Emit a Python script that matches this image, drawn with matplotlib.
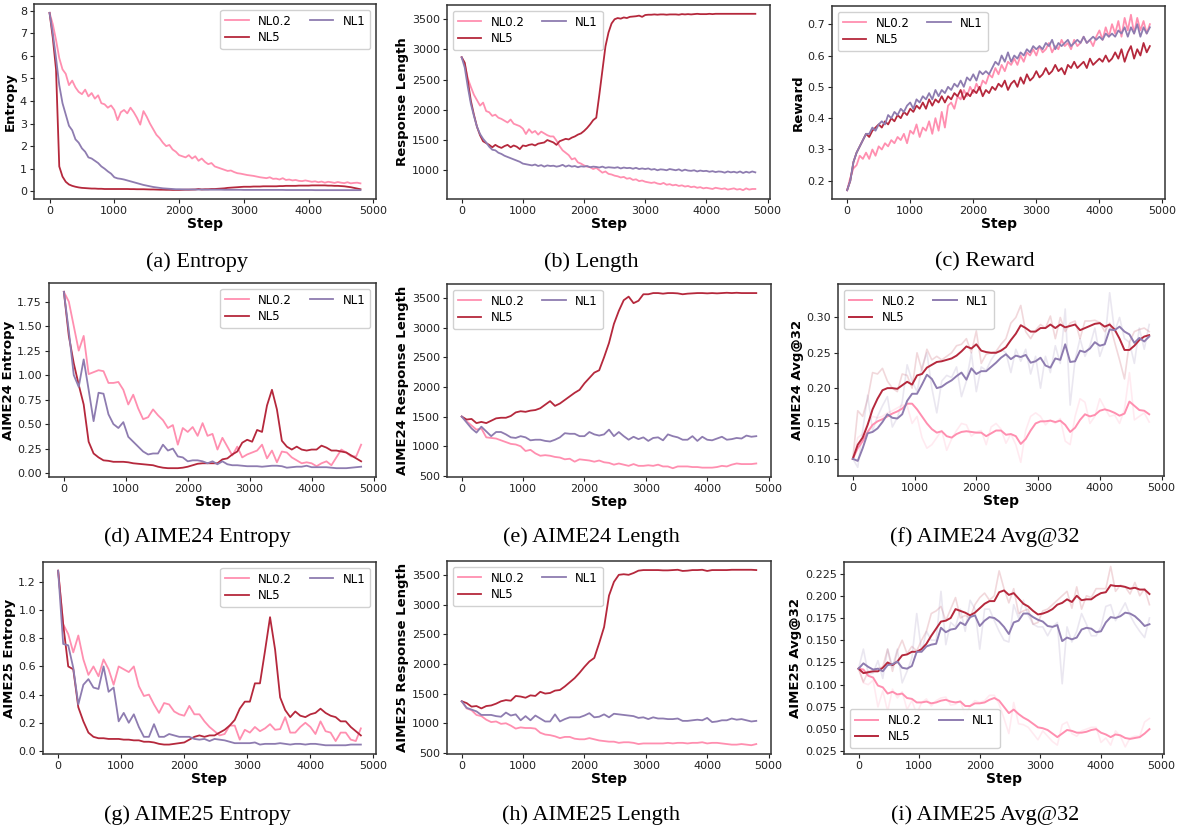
import numpy as np
import matplotlib
matplotlib.use("Agg")
import matplotlib.pyplot as plt
from matplotlib.ticker import MultipleLocator

# ---- data -------------------------------------------------------------
train_steps = np.arange(0, 4801, 50)   # training curves, every 50 steps
eval_steps = np.arange(0, 4801, 80)    # AIME evaluation, every 80 steps

labels = ["NL0.2", "NL5", "NL1"]
colors = {"NL0.2": "#ff8fb0", "NL5": "#b5283c", "NL1": "#8e7cb0"}

# (a) entropy
ent_nl02 = [7.9, 7.4, 6.7, 5.9, 5.4, 5.2, 4.7, 4.9, 4.6, 4.4,
            4.3, 4.5, 4.2, 4.35, 4.1, 4.25, 3.9, 3.85, 3.7, 3.8,
            3.6, 3.15, 3.5, 3.6, 3.45, 3.7, 3.5, 3.25, 2.95, 3.55,
            3.3, 3.0, 2.75, 2.5, 2.35, 2.15, 2.0, 2.05, 1.85, 1.75,
            1.6, 1.55, 1.5, 1.6, 1.45, 1.55, 1.35, 1.45, 1.3, 1.2,
            1.25, 1.1, 1.05, 1.0, 0.95, 0.9, 0.92, 0.85, 0.8, 0.78,
            0.75, 0.72, 0.7, 0.68, 0.65, 0.62, 0.6, 0.58, 0.62, 0.55,
            0.56, 0.52, 0.58, 0.5, 0.52, 0.48, 0.5, 0.46, 0.45, 0.48,
            0.45, 0.42, 0.44, 0.4, 0.43, 0.38, 0.42, 0.4, 0.37, 0.41,
            0.38, 0.36, 0.4, 0.35, 0.37, 0.38, 0.35]
ent_nl5 = [7.9, 6.8, 5.4, 1.1, 0.65, 0.42, 0.3, 0.24, 0.2, 0.17,
           0.15, 0.14, 0.13, 0.12, 0.12, 0.11, 0.11, 0.1, 0.1, 0.1,
           0.1, 0.1, 0.1, 0.1, 0.1, 0.095, 0.095, 0.09, 0.09, 0.09,
           0.085, 0.08, 0.08, 0.075, 0.07, 0.07, 0.065, 0.065, 0.06, 0.06,
           0.06, 0.065, 0.07, 0.07, 0.075, 0.08, 0.1, 0.08, 0.09, 0.09,
           0.1, 0.1, 0.11, 0.12, 0.13, 0.15, 0.16, 0.17, 0.18, 0.19,
           0.2, 0.2, 0.2, 0.21, 0.21, 0.21, 0.22, 0.22, 0.22, 0.22,
           0.22, 0.23, 0.23, 0.24, 0.24, 0.24, 0.24, 0.25, 0.25, 0.25,
           0.25, 0.26, 0.26, 0.26, 0.26, 0.26, 0.25, 0.25, 0.24, 0.24,
           0.23, 0.22, 0.2, 0.18, 0.15, 0.12, 0.09]
ent_nl1 = [7.9, 7.0, 5.9, 4.7, 3.9, 3.4, 2.9, 2.7, 2.3, 2.15,
           1.9, 1.75, 1.5, 1.45, 1.35, 1.25, 1.1, 1.0, 0.88, 0.78,
           0.62, 0.57, 0.55, 0.52, 0.48, 0.44, 0.4, 0.36, 0.32, 0.28,
           0.25, 0.22, 0.19, 0.17, 0.15, 0.13, 0.12, 0.11, 0.1, 0.09,
           0.09, 0.085, 0.08, 0.08, 0.08, 0.075, 0.075, 0.075, 0.07, 0.07,
           0.07, 0.07, 0.07, 0.07, 0.065, 0.065, 0.065, 0.065, 0.065, 0.065,
           0.06, 0.06, 0.06, 0.06, 0.06, 0.06, 0.06, 0.06, 0.06, 0.06,
           0.06, 0.06, 0.06, 0.055, 0.055, 0.055, 0.055, 0.055, 0.055, 0.055,
           0.055, 0.055, 0.05, 0.05, 0.05, 0.05, 0.05, 0.05, 0.05, 0.05,
           0.05, 0.05, 0.05, 0.05, 0.05, 0.05, 0.05]

# (b) response length
len_nl02 = [2870, 2760, 2520, 2380, 2250, 2160, 2070, 2120, 1980, 1960,
            1900, 1920, 1870, 1850, 1820, 1790, 1840, 1770, 1750, 1730,
            1690, 1600, 1680, 1620, 1650, 1590, 1640, 1610, 1580, 1560,
            1560, 1490, 1400, 1330, 1290, 1250, 1180, 1200, 1130, 1110,
            1080, 1060, 1050, 1020, 1040, 1000, 960, 980, 940, 930,
            910, 900, 880, 890, 860, 870, 840, 850, 820, 830,
            810, 800, 790, 800, 780, 770, 790, 760, 770, 750,
            760, 740, 750, 730, 740, 720, 730, 710, 720, 700,
            710, 700, 690, 710, 700, 690, 700, 680, 690, 700,
            680, 690, 670, 700, 680, 690, 690]
len_nl5 = [2870, 2780, 2480, 2150, 1920, 1720, 1580, 1480, 1450, 1420,
           1380, 1420, 1390, 1370, 1400, 1420, 1380, 1410, 1390, 1350,
           1410, 1400, 1420, 1430, 1410, 1440, 1450, 1460, 1500, 1480,
           1460, 1420, 1480, 1500, 1520, 1510, 1540, 1560, 1590, 1610,
           1650, 1700, 1760, 1830, 1870, 2250, 2650, 3050, 3280, 3430,
           3500, 3520, 3510, 3530, 3520, 3540, 3545, 3550, 3560, 3540,
           3570, 3575, 3575, 3580, 3575, 3580, 3580, 3575, 3580, 3580,
           3580, 3575, 3585, 3580, 3585, 3580, 3585, 3590, 3585, 3585,
           3585, 3590, 3585, 3590, 3590, 3590, 3590, 3590, 3590, 3590,
           3590, 3590, 3590, 3590, 3590, 3590, 3590]
len_nl1 = [2870, 2700, 2380, 2100, 1900, 1720, 1600, 1520, 1460, 1390,
           1340, 1330, 1290, 1270, 1240, 1220, 1200, 1180, 1160, 1140,
           1110, 1100, 1090, 1080, 1095, 1070, 1085, 1060, 1080, 1070,
           1075, 1060, 1070, 1090, 1060, 1080, 1060, 1070, 1050, 1065,
           1060, 1070, 1050, 1060, 1055, 1045, 1060, 1040, 1050, 1045,
           1040, 1050, 1030, 1045, 1035, 1040, 1025, 1040, 1020, 1030,
           1020, 1030, 1010, 1020, 1000, 1015, 1010, 1000, 1020, 1010,
           1000, 1015, 990, 1010, 995, 990, 1000, 980, 995, 985,
           990, 975, 985, 970, 980, 975, 960, 980, 965, 975,
           960, 980, 955, 975, 960, 980, 965]

# (c) reward
rew_nl02 = [0.17, 0.21, 0.24, 0.25, 0.28, 0.27, 0.29, 0.27, 0.30, 0.28,
            0.31, 0.30, 0.32, 0.31, 0.33, 0.32, 0.34, 0.33, 0.35, 0.32,
            0.36, 0.35, 0.38, 0.34, 0.37, 0.36, 0.39, 0.35, 0.40, 0.36,
            0.42, 0.37, 0.44, 0.45, 0.43, 0.47, 0.46, 0.49, 0.47, 0.50,
            0.48, 0.51, 0.49, 0.52, 0.51, 0.54, 0.53, 0.56, 0.54, 0.57,
            0.55, 0.58, 0.57, 0.59, 0.57, 0.60, 0.58, 0.61, 0.60, 0.62,
            0.60, 0.63, 0.61, 0.62, 0.64, 0.61, 0.63, 0.62, 0.65, 0.63,
            0.64, 0.62, 0.65, 0.63, 0.64, 0.66, 0.64, 0.65, 0.63, 0.66,
            0.68, 0.65, 0.69, 0.66, 0.70, 0.67, 0.71, 0.66, 0.72, 0.68,
            0.73, 0.67, 0.72, 0.68, 0.71, 0.67, 0.70]
rew_nl5 = [0.17, 0.20, 0.26, 0.29, 0.31, 0.33, 0.35, 0.34, 0.36, 0.37,
           0.38, 0.37, 0.39, 0.38, 0.40, 0.39, 0.41, 0.40, 0.42, 0.41,
           0.43, 0.42, 0.44, 0.43, 0.45, 0.43, 0.46, 0.44, 0.46, 0.45,
           0.47, 0.45, 0.47, 0.46, 0.48, 0.47, 0.49, 0.46, 0.48, 0.47,
           0.49, 0.48, 0.50, 0.47, 0.49, 0.48, 0.50, 0.49, 0.51, 0.50,
           0.52, 0.49, 0.51, 0.52, 0.50, 0.53, 0.51, 0.54, 0.52, 0.53,
           0.55, 0.53, 0.54, 0.56, 0.54, 0.55, 0.57, 0.55, 0.56, 0.54,
           0.57, 0.56, 0.58, 0.56, 0.57, 0.58, 0.56, 0.59, 0.57, 0.58,
           0.59, 0.58, 0.60, 0.58, 0.59, 0.61, 0.59, 0.62, 0.58, 0.61,
           0.63, 0.59, 0.62, 0.60, 0.64, 0.61, 0.63]
rew_nl1 = [0.17, 0.20, 0.26, 0.29, 0.31, 0.33, 0.35, 0.35, 0.37, 0.36,
           0.38, 0.39, 0.38, 0.41, 0.40, 0.42, 0.41, 0.43, 0.42, 0.44,
           0.45, 0.43, 0.46, 0.45, 0.47, 0.46, 0.48, 0.46, 0.49, 0.47,
           0.49, 0.48, 0.50, 0.49, 0.51, 0.50, 0.52, 0.50, 0.53, 0.52,
           0.54, 0.52, 0.55, 0.54, 0.55, 0.54, 0.56, 0.58, 0.57, 0.60,
           0.58, 0.61, 0.58, 0.60, 0.59, 0.61, 0.60, 0.62, 0.61, 0.63,
           0.62, 0.63, 0.62, 0.64, 0.63, 0.65, 0.62, 0.64, 0.63, 0.64,
           0.65, 0.63, 0.64, 0.65, 0.64, 0.66, 0.64, 0.65, 0.66, 0.65,
           0.66, 0.65, 0.67, 0.66, 0.67, 0.66, 0.68, 0.67, 0.69, 0.66,
           0.69, 0.67, 0.70, 0.66, 0.69, 0.67, 0.69]

# (d) AIME24 entropy
a24_ent_nl02 = [1.85, 1.75, 1.5, 1.25, 1.40, 1.01, 1.03, 1.05, 1.04, 0.92,
                0.92, 0.93, 0.85, 0.70, 0.80, 0.66, 0.55, 0.57, 0.65, 0.59,
                0.54, 0.46, 0.49, 0.29, 0.46, 0.42, 0.47, 0.38, 0.51, 0.38,
                0.40, 0.24, 0.36, 0.27, 0.18, 0.27, 0.16, 0.19, 0.21, 0.23,
                0.29, 0.15, 0.23, 0.11, 0.22, 0.21, 0.16, 0.13, 0.10, 0.11,
                0.10, 0.07, 0.10, 0.12, 0.08, 0.16, 0.24, 0.21, 0.17, 0.17, 0.29]
a24_ent_nl5 = [1.85, 1.40, 1.12, 0.90, 0.70, 0.32, 0.20, 0.16, 0.13, 0.125,
               0.115, 0.115, 0.115, 0.11, 0.10, 0.095, 0.09, 0.085, 0.08, 0.065,
               0.055, 0.05, 0.05, 0.05, 0.055, 0.065, 0.08, 0.095, 0.10, 0.10,
               0.10, 0.10, 0.14, 0.15, 0.19, 0.22, 0.31, 0.34, 0.32, 0.44,
               0.42, 0.69, 0.85, 0.65, 0.33, 0.27, 0.24, 0.27, 0.24, 0.23,
               0.24, 0.24, 0.28, 0.26, 0.23, 0.23, 0.22, 0.21, 0.18, 0.15, 0.12]
a24_ent_nl1 = [1.85, 1.45, 1.00, 0.88, 1.16, 0.85, 0.53, 0.82, 0.81, 0.60,
               0.50, 0.46, 0.52, 0.37, 0.32, 0.27, 0.22, 0.19, 0.20, 0.20,
               0.29, 0.23, 0.25, 0.17, 0.16, 0.12, 0.13, 0.13, 0.12, 0.10,
               0.12, 0.09, 0.12, 0.09, 0.08, 0.08, 0.075, 0.07, 0.07, 0.07,
               0.065, 0.07, 0.075, 0.075, 0.07, 0.055, 0.06, 0.065, 0.065, 0.075,
               0.06, 0.06, 0.06, 0.06, 0.055, 0.05, 0.05, 0.05, 0.055, 0.06, 0.065]

# (e) AIME24 response length
a24_len_nl02 = [1500, 1420, 1350, 1280, 1300, 1150, 1140, 1130, 1100, 1070,
                1040, 1030, 1000, 920, 940, 880, 840, 850, 840, 820,
                810, 780, 790, 740, 780, 770, 760, 740, 760, 730,
                720, 690, 710, 690, 670, 700, 670, 670, 680, 670,
                690, 660, 660, 630, 660, 660, 660, 650, 650, 640,
                640, 640, 650, 670, 660, 690, 710, 700, 700, 700, 710]
a24_len_nl5 = [1500, 1450, 1460, 1390, 1410, 1390, 1430, 1470, 1480, 1480,
               1510, 1570, 1590, 1580, 1600, 1610, 1640, 1700, 1760, 1680,
               1720, 1780, 1840, 1900, 1950, 2060, 2150, 2240, 2280, 2500,
               2740, 3060, 3280, 3460, 3520, 3410, 3450, 3560, 3560, 3580,
               3580, 3570, 3580, 3580, 3575, 3560, 3570, 3575, 3580, 3580,
               3575, 3580, 3575, 3580, 3585, 3580, 3585, 3580, 3580, 3580, 3580]
a24_len_nl1 = [1500, 1400, 1300, 1230, 1330, 1250, 1170, 1240, 1240, 1200,
               1150, 1140, 1170, 1150, 1100, 1110, 1110, 1090, 1080, 1110,
               1150, 1220, 1210, 1210, 1170, 1170, 1240, 1200, 1180, 1200,
               1280, 1170, 1240, 1170, 1110, 1160, 1120, 1150, 1090, 1140,
               1150, 1100, 1200, 1170, 1150, 1110, 1110, 1170, 1090, 1160,
               1110, 1100, 1130, 1160, 1110, 1120, 1140, 1130, 1180, 1160, 1170]

# (f) AIME24 Avg@32: raw and smoothed
a24_avg_nl02_raw = [0.100, 0.130, 0.135, 0.150, 0.160, 0.158, 0.160, 0.165, 0.168, 0.172,
                    0.176, 0.175, 0.150, 0.160, 0.130, 0.115, 0.120, 0.130, 0.140, 0.112,
                    0.128, 0.140, 0.150, 0.148, 0.132, 0.138, 0.140, 0.120, 0.145, 0.150,
                    0.142, 0.122, 0.135, 0.120, 0.095, 0.140, 0.160, 0.165, 0.160, 0.148,
                    0.155, 0.150, 0.157, 0.125, 0.120, 0.160, 0.185, 0.180, 0.150, 0.160,
                    0.185, 0.172, 0.160, 0.162, 0.150, 0.170, 0.222, 0.155, 0.160, 0.165, 0.152]
a24_avg_nl5_raw = [0.100, 0.168, 0.160, 0.185, 0.222, 0.220, 0.228, 0.210, 0.200, 0.195,
                   0.220, 0.218, 0.200, 0.250, 0.225, 0.255, 0.240, 0.245, 0.240, 0.245,
                   0.250, 0.260, 0.262, 0.270, 0.250, 0.281, 0.235, 0.248, 0.250, 0.252,
                   0.262, 0.270, 0.292, 0.300, 0.317, 0.280, 0.270, 0.282, 0.290, 0.285,
                   0.302, 0.270, 0.300, 0.280, 0.292, 0.295, 0.270, 0.295, 0.295, 0.296,
                   0.293, 0.280, 0.292, 0.265, 0.240, 0.213, 0.265, 0.280, 0.283, 0.285, 0.280]
a24_avg_nl1_raw = [0.100, 0.088, 0.140, 0.190, 0.140, 0.160, 0.175, 0.188, 0.145, 0.158,
                   0.180, 0.233, 0.210, 0.195, 0.230, 0.250, 0.200, 0.165, 0.210, 0.218,
                   0.215, 0.230, 0.188, 0.210, 0.250, 0.195, 0.230, 0.225, 0.240, 0.250,
                   0.255, 0.250, 0.222, 0.255, 0.238, 0.255, 0.220, 0.245, 0.200, 0.245,
                   0.222, 0.260, 0.235, 0.312, 0.176, 0.240, 0.270, 0.245, 0.260, 0.285,
                   0.245, 0.265, 0.335, 0.280, 0.300, 0.270, 0.265, 0.235, 0.285, 0.255, 0.290]
a24_avg_nl02 = [0.100, 0.115, 0.125, 0.138, 0.148, 0.153, 0.156, 0.160, 0.164, 0.167,
                0.171, 0.178, 0.178, 0.170, 0.160, 0.150, 0.142, 0.137, 0.139, 0.132,
                0.130, 0.135, 0.138, 0.139, 0.138, 0.137, 0.137, 0.132, 0.136, 0.140,
                0.140, 0.134, 0.135, 0.132, 0.121, 0.128, 0.140, 0.150, 0.153, 0.153,
                0.154, 0.152, 0.154, 0.148, 0.138, 0.144, 0.155, 0.163, 0.160, 0.162,
                0.168, 0.170, 0.168, 0.165, 0.161, 0.164, 0.181, 0.175, 0.169, 0.168, 0.163]
a24_avg_nl5 = [0.100, 0.120, 0.130, 0.148, 0.170, 0.185, 0.197, 0.200, 0.200, 0.199,
               0.204, 0.209, 0.205, 0.218, 0.220, 0.229, 0.233, 0.237, 0.238, 0.240,
               0.242, 0.246, 0.252, 0.259, 0.256, 0.262, 0.253, 0.251, 0.250, 0.250,
               0.253, 0.258, 0.268, 0.277, 0.289, 0.285, 0.280, 0.280, 0.285, 0.285,
               0.290, 0.285, 0.290, 0.286, 0.288, 0.290, 0.282, 0.285, 0.288, 0.291,
               0.292, 0.287, 0.290, 0.283, 0.270, 0.254, 0.254, 0.260, 0.268, 0.273, 0.275]
a24_avg_nl1 = [0.100, 0.097, 0.115, 0.136, 0.138, 0.143, 0.152, 0.163, 0.158, 0.157,
               0.163, 0.182, 0.192, 0.192, 0.205, 0.219, 0.213, 0.200, 0.202, 0.207,
               0.211, 0.217, 0.222, 0.212, 0.228, 0.220, 0.224, 0.224, 0.230, 0.236,
               0.243, 0.248, 0.241, 0.246, 0.244, 0.247, 0.236, 0.238, 0.243, 0.232,
               0.229, 0.242, 0.240, 0.262, 0.237, 0.238, 0.253, 0.251, 0.256, 0.265,
               0.260, 0.262, 0.283, 0.282, 0.287, 0.280, 0.276, 0.264, 0.271, 0.266, 0.273]

# (g) AIME25 entropy
a25_ent_nl02 = [1.28, 0.90, 0.83, 0.70, 0.82, 0.65, 0.54, 0.60, 0.53, 0.65,
                0.58, 0.47, 0.60, 0.58, 0.56, 0.60, 0.46, 0.39, 0.40, 0.33,
                0.27, 0.34, 0.33, 0.28, 0.26, 0.25, 0.32, 0.26, 0.26, 0.21,
                0.17, 0.14, 0.11, 0.12, 0.18, 0.18, 0.08, 0.15, 0.13, 0.17,
                0.14, 0.16, 0.19, 0.15, 0.155, 0.24, 0.13, 0.13, 0.17, 0.20,
                0.17, 0.12, 0.21, 0.14, 0.13, 0.07, 0.13, 0.13, 0.08, 0.07, 0.16]
a25_ent_nl5 = [1.28, 0.90, 0.60, 0.58, 0.31, 0.21, 0.13, 0.10, 0.09, 0.09,
               0.085, 0.085, 0.085, 0.08, 0.08, 0.075, 0.075, 0.065, 0.065, 0.06,
               0.05, 0.045, 0.045, 0.05, 0.055, 0.06, 0.08, 0.10, 0.11, 0.10,
               0.11, 0.11, 0.13, 0.15, 0.18, 0.22, 0.30, 0.35, 0.35, 0.48,
               0.48, 0.71, 0.95, 0.72, 0.38, 0.29, 0.24, 0.28, 0.25, 0.24,
               0.26, 0.27, 0.30, 0.27, 0.25, 0.24, 0.21, 0.21, 0.17, 0.14, 0.11]
a25_ent_nl1 = [1.28, 0.76, 0.75, 0.59, 0.33, 0.47, 0.51, 0.45, 0.44, 0.60,
               0.42, 0.45, 0.21, 0.27, 0.20, 0.26, 0.17, 0.10, 0.10, 0.19,
               0.10, 0.10, 0.12, 0.11, 0.10, 0.10, 0.10, 0.085, 0.08, 0.085,
               0.07, 0.085, 0.08, 0.075, 0.065, 0.055, 0.055, 0.055, 0.055, 0.06,
               0.045, 0.05, 0.05, 0.05, 0.055, 0.05, 0.045, 0.05, 0.05, 0.045,
               0.05, 0.05, 0.045, 0.04, 0.04, 0.04, 0.04, 0.04, 0.045, 0.045, 0.045]

# (h) AIME25 response length
a25_len_nl02 = [1370, 1250, 1220, 1140, 1120, 1060, 1020, 1030, 990, 1000,
                960, 910, 930, 920, 920, 910, 840, 810, 800, 780,
                750, 770, 770, 740, 730, 730, 750, 730, 710, 700,
                690, 690, 670, 680, 680, 670, 650, 660, 660, 660,
                660, 660, 670, 660, 670, 670, 660, 670, 670, 680,
                660, 670, 670, 660, 650, 640, 640, 650, 640, 630, 650]
a25_len_nl5 = [1370, 1340, 1280, 1290, 1250, 1290, 1300, 1330, 1370, 1390,
               1380, 1460, 1450, 1430, 1470, 1460, 1530, 1500, 1510, 1550,
               1560, 1620, 1690, 1760, 1850, 1950, 2040, 2100, 2350, 2620,
               3150, 3380, 3500, 3510, 3500, 3530, 3570, 3580, 3580, 3580,
               3580, 3575, 3575, 3580, 3585, 3565, 3570, 3580, 3580, 3585,
               3565, 3580, 3580, 3580, 3580, 3585, 3585, 3585, 3585, 3585, 3580]
a25_len_nl1 = [1370, 1260, 1230, 1200, 1140, 1140, 1140, 1120, 1110, 1180,
               1130, 1150, 1050, 1120, 1050, 1130, 1080, 1030, 1030, 1150,
               1030, 1070, 1100, 1100, 1100, 1130, 1170, 1100, 1110, 1150,
               1100, 1160, 1150, 1140, 1130, 1120, 1090, 1100, 1070, 1100,
               1080, 1080, 1070, 1070, 1080, 1040, 1040, 1050, 1060, 1050,
               1090, 1020, 1030, 1050, 1050, 1080, 1060, 1070, 1050, 1030, 1040]

# (i) AIME25 Avg@32: raw and smoothed
a25_avg_nl02_raw = [0.118, 0.102, 0.100, 0.105, 0.075, 0.093, 0.070, 0.095, 0.085, 0.092,
                    0.072, 0.082, 0.067, 0.080, 0.084, 0.076, 0.082, 0.085, 0.086, 0.077,
                    0.078, 0.082, 0.065, 0.076, 0.082, 0.080, 0.082, 0.088, 0.088, 0.078,
                    0.062, 0.045, 0.080, 0.056, 0.055, 0.052, 0.045, 0.038, 0.048, 0.042,
                    0.036, 0.032, 0.055, 0.058, 0.045, 0.042, 0.048, 0.050, 0.052, 0.052,
                    0.035, 0.040, 0.032, 0.048, 0.042, 0.030, 0.040, 0.042, 0.042, 0.058, 0.062]
a25_avg_nl5_raw = [0.118, 0.103, 0.115, 0.115, 0.118, 0.120, 0.140, 0.115, 0.138, 0.150,
                   0.135, 0.143, 0.138, 0.150, 0.160, 0.180, 0.183, 0.188, 0.172, 0.185,
                   0.198, 0.175, 0.178, 0.175, 0.190, 0.198, 0.203, 0.195, 0.200, 0.228,
                   0.208, 0.192, 0.208, 0.180, 0.183, 0.185, 0.168, 0.170, 0.183, 0.185,
                   0.190, 0.195, 0.200, 0.205, 0.186, 0.210, 0.185, 0.200, 0.198, 0.208,
                   0.208, 0.208, 0.233, 0.205, 0.212, 0.210, 0.202, 0.215, 0.200, 0.208, 0.190]
a25_avg_nl1_raw = [0.118, 0.140, 0.112, 0.113, 0.127, 0.107, 0.140, 0.120, 0.140, 0.102,
                   0.115, 0.130, 0.180, 0.137, 0.160, 0.150, 0.150, 0.205, 0.145, 0.170,
                   0.165, 0.185, 0.160, 0.195, 0.185, 0.140, 0.185, 0.185, 0.172, 0.160,
                   0.150, 0.148, 0.190, 0.175, 0.195, 0.178, 0.168, 0.165, 0.165, 0.155,
                   0.165, 0.170, 0.101, 0.165, 0.148, 0.160, 0.180, 0.168, 0.155, 0.155,
                   0.165, 0.188, 0.190, 0.172, 0.182, 0.192, 0.178, 0.168, 0.160, 0.153, 0.175]
a25_avg_nl02 = [0.118, 0.117, 0.110, 0.108, 0.099, 0.097, 0.090, 0.092, 0.089, 0.090,
                0.085, 0.084, 0.080, 0.080, 0.081, 0.079, 0.080, 0.082, 0.083, 0.081,
                0.080, 0.081, 0.076, 0.076, 0.079, 0.079, 0.080, 0.083, 0.085, 0.082,
                0.075, 0.068, 0.072, 0.067, 0.063, 0.060, 0.056, 0.052, 0.051, 0.049,
                0.045, 0.041, 0.045, 0.049, 0.048, 0.046, 0.046, 0.047, 0.049, 0.050,
                0.046, 0.044, 0.041, 0.044, 0.043, 0.040, 0.039, 0.040, 0.041, 0.045, 0.050]
a25_avg_nl5 = [0.118, 0.113, 0.114, 0.115, 0.115, 0.119, 0.125, 0.122, 0.126, 0.133,
               0.134, 0.137, 0.137, 0.140, 0.146, 0.155, 0.163, 0.171, 0.172, 0.175,
               0.185, 0.183, 0.181, 0.178, 0.181, 0.186, 0.191, 0.194, 0.194, 0.204,
               0.206, 0.201, 0.203, 0.197, 0.191, 0.188, 0.183, 0.179, 0.180, 0.182,
               0.185, 0.190, 0.192, 0.196, 0.193, 0.200, 0.195, 0.196, 0.196, 0.200,
               0.203, 0.204, 0.212, 0.211, 0.211, 0.210, 0.208, 0.209, 0.207, 0.207, 0.202]
a25_avg_nl1 = [0.118, 0.124, 0.120, 0.117, 0.118, 0.115, 0.122, 0.123, 0.126, 0.119,
               0.118, 0.121, 0.137, 0.137, 0.143, 0.145, 0.146, 0.164, 0.159, 0.162,
               0.163, 0.170, 0.167, 0.176, 0.178, 0.166, 0.172, 0.176, 0.175, 0.171,
               0.165, 0.157, 0.170, 0.172, 0.180, 0.180, 0.176, 0.173, 0.171, 0.166,
               0.165, 0.167, 0.149, 0.153, 0.151, 0.153, 0.162, 0.164, 0.163, 0.159,
               0.160, 0.170, 0.176, 0.175, 0.177, 0.181, 0.180, 0.177, 0.172, 0.166, 0.168]

# ---- layout -----------------------------------------------------------
W, H = 1182, 832
fig = plt.figure(figsize=(W / 100, H / 100), dpi=100)


def add_ax(l, t, r, b):
    # pixel box (left, top, right, bottom) -> figure fraction
    return fig.add_axes([l / W, 1 - b / H, (r - l) / W, (b - t) / H])


def style(ax, ylabel):
    ax.set_xlabel("Step", fontsize=10, fontweight="bold", labelpad=1)
    ax.set_ylabel(ylabel, fontsize=9.5, fontweight="bold", labelpad=2)
    ax.tick_params(labelsize=8, colors="#222222", length=3, pad=2)
    ax.set_xticks([0, 1000, 2000, 3000, 4000, 5000])
    for s in ax.spines.values():
        s.set_color("#333333")
        s.set_linewidth(1.1)


def legend(ax, loc):
    ax.legend(loc=loc, ncol=2, fontsize=8.5, frameon=True, framealpha=0.9,
              edgecolor="#cccccc", handlelength=2.0, columnspacing=1.5,
              borderpad=0.4, labelspacing=0.3)


def plain(ax, x, series, ylabel, loc):
    for name, y in zip(labels, series):
        ax.plot(x, y, color=colors[name], lw=1.3, label=name)
    style(ax, ylabel)
    legend(ax, loc)


def smoothed(ax, x, raws, smooths, ylabel, loc):
    for name, yr in zip(labels, raws):
        ax.plot(x, yr, color=colors[name], lw=1.2, alpha=0.18)
    for name, ys in zip(labels, smooths):
        ax.plot(x, ys, color=colors[name], lw=1.4, label=name)
    style(ax, ylabel)
    legend(ax, loc)


ax = add_ax(34, 4, 376, 199)
plain(ax, train_steps, [ent_nl02, ent_nl5, ent_nl1], "Entropy", "upper right")
ax.set_yticks(range(0, 9))

ax = add_ax(447, 5, 770, 199)
plain(ax, train_steps, [len_nl02, len_nl5, len_nl1], "Response Length", "upper left")

ax = add_ax(832, 6, 1165, 199)
plain(ax, train_steps, [rew_nl02, rew_nl5, rew_nl1], "Reward", "upper left")

ax = add_ax(49, 283, 376, 477)
plain(ax, eval_steps, [a24_ent_nl02, a24_ent_nl5, a24_ent_nl1], "AIME24 Entropy", "upper right")

ax = add_ax(447, 284, 771, 477)
plain(ax, eval_steps, [a24_len_nl02, a24_len_nl5, a24_len_nl1], "AIME24 Response Length", "upper left")

ax = add_ax(838, 284, 1164, 476)
smoothed(ax, eval_steps, [a24_avg_nl02_raw, a24_avg_nl5_raw, a24_avg_nl1_raw],
         [a24_avg_nl02, a24_avg_nl5, a24_avg_nl1], "AIME24 Avg@32", "upper left")

ax = add_ax(43, 562, 376, 754)
plain(ax, eval_steps, [a25_ent_nl02, a25_ent_nl5, a25_ent_nl1], "AIME25 Entropy", "upper right")

ax = add_ax(447, 561, 771, 754)
plain(ax, eval_steps, [a25_len_nl02, a25_len_nl5, a25_len_nl1], "AIME25 Response Length", "upper left")

ax = add_ax(844, 562, 1164, 754)
smoothed(ax, eval_steps, [a25_avg_nl02_raw, a25_avg_nl5_raw, a25_avg_nl1_raw],
         [a25_avg_nl02, a25_avg_nl5, a25_avg_nl1], "AIME25 Avg@32", "lower left")
ax.yaxis.set_major_locator(MultipleLocator(0.025))
ax.set_ylim(0.022, 0.238)

captions = [["(a) Entropy", "(b) Length", "(c) Reward"],
            ["(d) AIME24 Entropy", "(e) AIME24 Length", "(f) AIME24 Avg@32"],
            ["(g) AIME25 Entropy", "(h) AIME25 Length", "(i) AIME25 Avg@32"]]
cap_y = [262, 537, 815]
cap_x = [197, 591, 985]
for row, y in zip(captions, cap_y):
    for txt, x in zip(row, cap_x):
        fig.text(x / W, 1 - y / H, txt, ha="center", va="center",
                 fontsize=16, family="Liberation Serif")

fig.savefig("out.png", dpi=100)
